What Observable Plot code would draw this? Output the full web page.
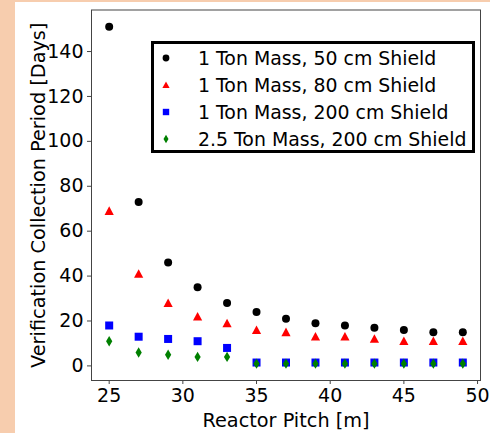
<!DOCTYPE html>
<html>
<head>
<meta charset="utf-8">
<script src="https://cdn.jsdelivr.net/npm/d3@7"></script>
<script src="https://cdn.jsdelivr.net/npm/@observablehq/plot@0.6"></script>
<style>
  html, body { margin: 0; padding: 0; background: #f7cdae; }
  #wrap { position: relative; width: 490px; height: 433px; background: #f7cdae; overflow: hidden; }
  #chart { position: absolute; left: 15px; top: 2px; width: 475px; height: 431px; background: white; }
  #legend { position: absolute; left: 151px; top: 41px; width: 318px; height: 106px;
            border: 3px solid black; background: white; font-family: "DejaVu Sans"; font-size: 18.9px; }
  .row { position: absolute; left: 0; height: 27px; display: flex; align-items: center; }
  .row svg { margin-left: 4px; }
  .row span { position: absolute; left: 44px; white-space: nowrap; }
</style>
</head>
<body>
<div id="wrap"><div id="chart"></div><div id="legend"></div></div>
<script>
const pitch = [25, 27, 29, 31, 33, 35, 37, 39, 41, 43, 45, 47, 49];
const ton1Shield50 = [151, 73, 46, 35, 28, 24, 21, 19, 18, 17, 16, 15, 15];
const ton1Shield80 = [69, 41, 28, 22, 19, 16, 15, 13, 13, 12, 11, 11, 11];
const ton1Shield200 = [18, 13, 12, 11, 8, 1.5, 1.5, 1.5, 1.5, 1.5, 1.5, 1.5, 1.5];
const ton25Shield200 = [11, 6, 5, 4, 4, 1, 1, 1, 1, 1, 1, 1, 1];
const seriesNames = ["1 Ton Mass, 50 cm Shield", "1 Ton Mass, 80 cm Shield", "1 Ton Mass, 200 cm Shield", "2.5 Ton Mass, 200 cm Shield"];
const seriesColors = ["black", "red", "blue", "green"];
const xTicks = [25, 30, 35, 40, 45, 50];
const yTicks = [0, 20, 40, 60, 80, 100, 120, 140];
const xLabel = "Reactor Pitch [m]";
const yLabel = "Verification Collection Period [Days]";

const rOf = size => Math.sqrt(size / Math.PI);
const triUp = { draw(c, size) { const r = rOf(size); c.moveTo(0, -r); c.lineTo(r, r * 0.85); c.lineTo(-r, r * 0.85); c.closePath(); } };
const square = { draw(c, size) { const r = rOf(size); c.rect(-r, -r, 2 * r, 2 * r); } };
const thinDiamond = { draw(c, size) { const r = rOf(size); c.moveTo(0, -r); c.lineTo(r * 0.6, 0); c.lineTo(0, r); c.lineTo(-r * 0.6, 0); c.closePath(); } };
const symbols = [d3.symbolCircle, triUp, square, thinDiamond];
const radii = [4, 4.6, 4, 5.2];

const allSeries = [ton1Shield50, ton1Shield80, ton1Shield200, ton25Shield200];
const rows = allSeries.map((vals, s) => pitch.map((p, i) => ({ pitch: p, days: vals[i], s })));

const font = "DejaVu Sans";
const plot = Plot.plot({
  width: 475, height: 431,
  marginLeft: 76, marginRight: 10, marginTop: 7.5, marginBottom: 53,
  style: { fontFamily: font, fontSize: "19px", background: "white", color: "black", overflow: "visible" },
  x: { domain: [23.8, 50.2], ticks: xTicks, label: null },
  y: { domain: [-6.5, 158.5], ticks: yTicks, label: null },
  marks: [
    Plot.frame({ stroke: "#444", strokeWidth: 1 }),
    Plot.axisX({ ticks: xTicks, tickSize: 4, tickPadding: 4, stroke: "#444", label: null, fontSize: 19 }),
    Plot.axisY({ ticks: yTicks, tickSize: 4, tickPadding: 4, stroke: "#444", label: null, fontSize: 19 }),
    ...rows.map((data, s) => Plot.dot(data, { x: "pitch", y: "days", fill: seriesColors[s], stroke: "none", symbol: () => symbols[s], r: radii[s] })),
    Plot.text([xLabel], { text: d => d, frameAnchor: "bottom", dy: 46, lineAnchor: "bottom", fontSize: 19.3 }),
    Plot.text([yLabel], { text: d => d, frameAnchor: "left", textAnchor: "middle", dx: -53, rotate: -90, fontSize: 19.3 })
  ]
});
document.getElementById("chart").appendChild(plot);

const legend = document.getElementById("legend");
seriesNames.forEach((name, s) => {
  const row = document.createElement("div");
  row.className = "row";
  row.style.top = (s * 27.3) + "px";
  const svg = d3.create("svg").attr("width", 16).attr("height", 16);
  const scale = [3.4, 3.6, 3.2, 4.2][s];
  svg.append("path").attr("transform", "translate(8,8)")
    .attr("d", d3.symbol(symbols[s], Math.PI * scale * scale)())
    .attr("fill", seriesColors[s]);
  row.appendChild(svg.node());
  const span = document.createElement("span");
  span.textContent = name;
  row.appendChild(span);
  legend.appendChild(row);
});
</script>
</body>
</html>
